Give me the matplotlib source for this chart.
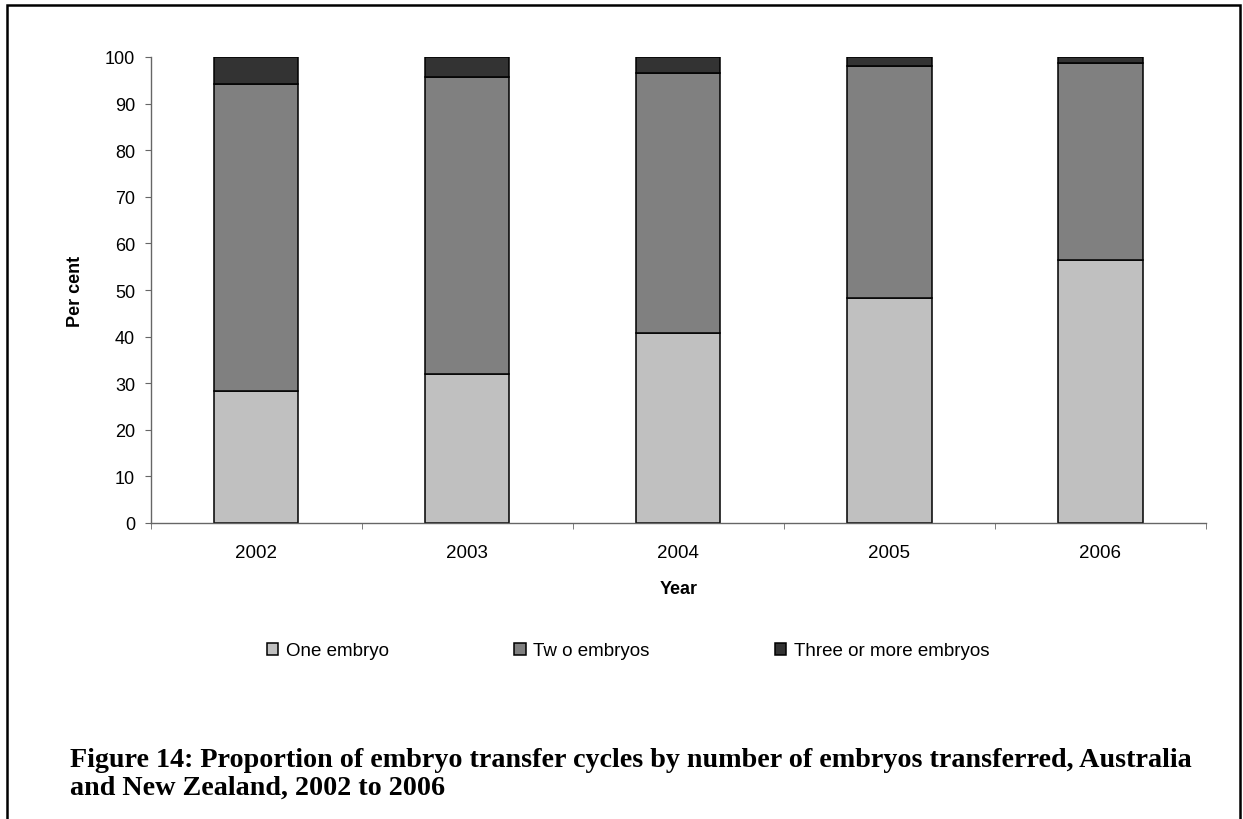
import numpy as np
import matplotlib
matplotlib.use('Agg')
import matplotlib.pyplot as plt
from matplotlib.patches import Rectangle

years = ['2002', '2003', '2004', '2005', '2006']
one_embryo = [28.4, 31.9, 40.7, 48.2, 56.5]
two_embryos = [65.7, 63.9, 55.9, 49.8, 42.2]
three_plus = [5.9, 4.2, 3.4, 2.0, 1.3]

series_labels = ['One embryo', 'Tw o embryos', 'Three or more embryos']
colors = ['#c0c0c0', '#808080', '#333333']
caption = ['Figure 14: Proportion of embryo transfer cycles by number of embryos transferred, Australia',
           'and New Zealand, 2002 to 2006']

plt.rcParams['font.family'] = ['Liberation Sans', 'DejaVu Sans']

W, H = 1243, 820
fig = plt.figure(figsize=(W/100, H/100), dpi=100)
ax = fig.add_axes([150.5/W, 1-524/H, (1206-150.5)/W, (524-58)/H])

ind = np.arange(len(years))
w = 0.40
bottom = np.zeros(len(years))
handles = []
for vals, lab, c in zip([one_embryo, two_embryos, three_plus], series_labels, colors):
    b = ax.bar(ind, vals, w, bottom=bottom, color=c, edgecolor='black', linewidth=1.1, label=lab)
    handles.append(b)
    bottom = bottom + np.array(vals)

ax.set_xlim(-0.5, len(years)-0.5)
ax.set_ylim(0, 100)
ax.set_yticks(np.arange(0, 101, 10))
ax.set_xticks(ind)
ax.set_xticklabels(years)
ax.set_xticks(np.arange(-0.5, len(years), 1), minor=True)
ax.tick_params(axis='x', which='major', length=0, pad=15, labelsize=13.5)
ax.tick_params(axis='x', which='minor', length=4, direction='out', color='#666666')
ax.tick_params(axis='y', length=4, direction='out', labelsize=13, pad=7, color='#666666')
for s in ['top', 'right']:
    ax.spines[s].set_visible(False)
for s in ['left', 'bottom']:
    ax.spines[s].set_color('#666666')
    ax.spines[s].set_linewidth(1.0)

ax.set_ylabel('Per cent', fontweight='bold', fontsize=13, labelpad=15)
ax.set_xlabel('Year', fontweight='bold', fontsize=13, labelpad=14)

fig.legend(handles, series_labels, loc='center left', bbox_to_anchor=(267/W, 1-652/H),
           ncol=3, frameon=False, fontsize=13.5, handlelength=0.6, handleheight=0.6,
           handletextpad=0.4, columnspacing=6.7, borderpad=0, borderaxespad=0)

# caption: fit line 1 to the width it spans in the reference
cap_font = ['Liberation Serif', 'DejaVu Serif']
t1 = fig.text(70/W, 1-767/H, caption[0], family=cap_font, fontweight='bold', fontsize=18, va='baseline')
t2 = fig.text(70/W, 1-795/H, caption[1], family=cap_font, fontweight='bold', fontsize=18, va='baseline')
fig.canvas.draw()
fs = 18 * (1189-70) / t1.get_window_extent().width
t1.set_fontsize(fs)
t2.set_fontsize(fs)

fig.patches.append(Rectangle((6.5/W, -10/H), (1240-6.5)/W, (H-6+10)/H, transform=fig.transFigure,
                             fill=False, edgecolor='black', linewidth=1.8))

fig.savefig('out.png', dpi=100)
